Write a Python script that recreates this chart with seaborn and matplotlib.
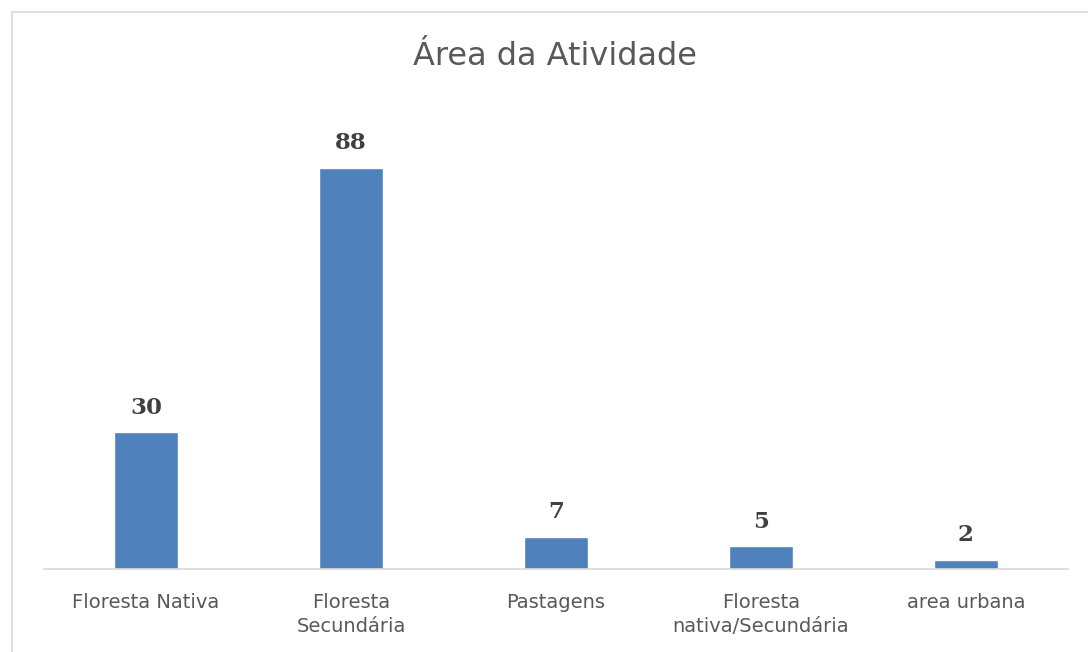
import matplotlib
matplotlib.use('Agg')
import matplotlib.pyplot as plt
import seaborn as sns
import pandas as pd
from matplotlib.patches import Rectangle

categories = ['Floresta Nativa', 'Floresta\nSecundária', 'Pastagens',
              'Floresta\nnativa/Secundária', 'area urbana']
values = [30, 88, 7, 5, 2]

df = pd.DataFrame({'area': categories, 'n': values})

sns.set_style('white')
plt.rcParams['font.family'] = ['DejaVu Sans']

fig = plt.figure(figsize=(10.88, 6.52), dpi=100)
ax = fig.add_axes([0.040, 0.1273, 0.942, 0.6994])

sns.barplot(data=df, x='area', y='n', color='#4F81BD', saturation=1,
            width=0.31, ax=ax)

for i, v in enumerate(values):
    ax.text(i, v + 3.0, str(v), ha='center', va='bottom', fontsize=16.5,
            fontweight='bold', family='DejaVu Serif', color='#404040')

ax.set_ylim(0, 100)
ax.set_xlim(-0.5, 4.5)
ax.set_yticks([])
ax.set_xlabel('')
ax.set_ylabel('')
for s in ['top', 'right', 'left']:
    ax.spines[s].set_visible(False)
ax.spines['bottom'].set_color('#D9D9D9')
ax.spines['bottom'].set_linewidth(1.2)
ax.tick_params(axis='x', length=0, pad=17, labelsize=14, labelcolor='#595959')
for lbl in ax.get_xticklabels():
    lbl.set_linespacing(1.35)

fig.text(0.51, 0.913, 'Área da Atividade', ha='center', va='center',
         fontsize=23, color='#595959')

fig.patches.append(Rectangle((12 / 1088, -0.1), 1.2, 1 - 12 / 652 + 0.1,
                             transform=fig.transFigure, fill=False,
                             edgecolor='#D9D9D9', linewidth=1.2))

fig.savefig('out.png', dpi=100)
